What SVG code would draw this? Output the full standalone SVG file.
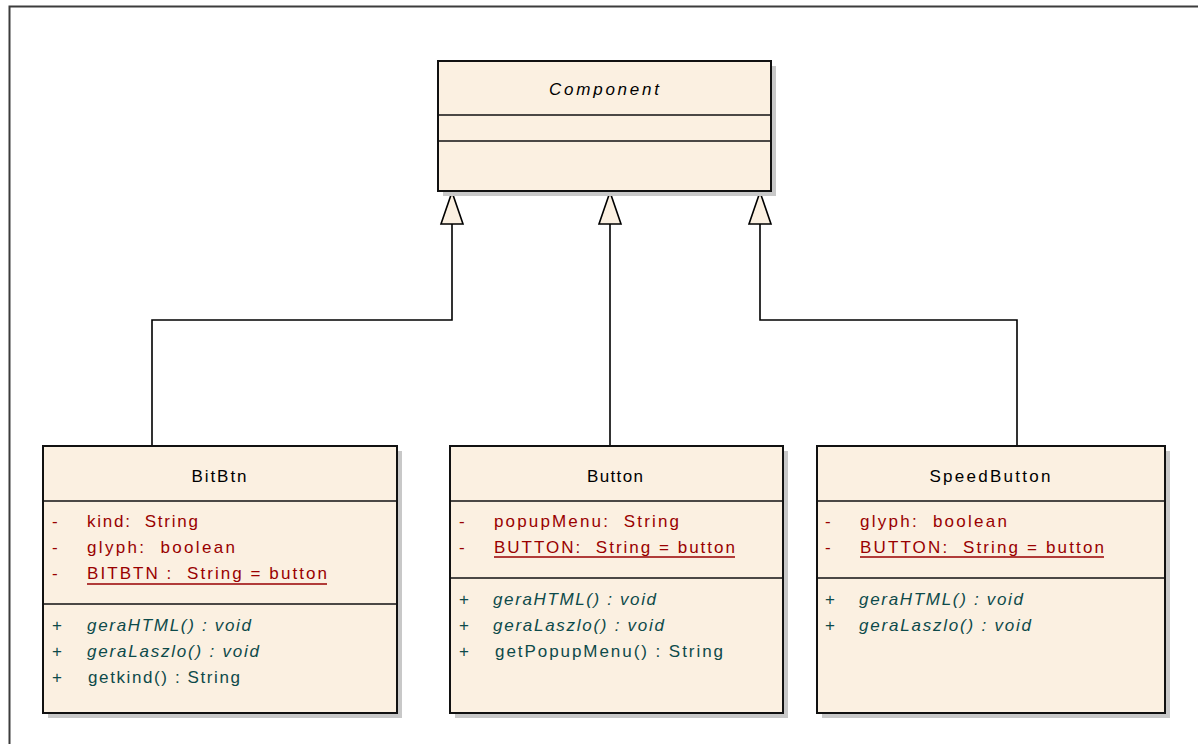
<svg xmlns="http://www.w3.org/2000/svg" width="1198" height="744" viewBox="0 0 1198 744">
  <style>
    .box { fill: #FBF0E1; stroke: #111; stroke-width: 2; }
    .shadow { fill: #c8c8c8; }
    .div { stroke: #111; stroke-width: 1.5; }
    text { font-family: "Liberation Sans", Arial, sans-serif; font-size: 17px; white-space: pre; }
    .title { fill: #000; text-anchor: middle; }
    .attr { fill: #990000; }
    .op { fill: #0d4a4a; }
    .it { font-style: italic; }
    .ul { stroke: #990000; stroke-width: 1.4; }
    .edge { fill: none; stroke: #000; stroke-width: 1.6; }
    .head { fill: #FBF0E1; stroke: #000; stroke-width: 1.6; stroke-linejoin: miter; }
  </style>

  <rect width="1198" height="744" fill="#fff"/>
  <!-- diagram frame -->
  <path d="M9.5,744 V6.5 H1198" fill="none" stroke="#3c3c3c" stroke-width="2"/>

  <!-- generalization connectors -->
  <g id="connectors">
    <path class="edge" d="M152,446 V320 H452 V224"/>
    <path class="edge" d="M610,446 V224"/>
    <path class="edge" d="M1017,446 V320 H760 V224"/>
    <path class="head" d="M452,192 L441,224 H463 Z"/>
    <path class="head" d="M610,192 L599,224 H621 Z"/>
    <path class="head" d="M760,192 L749,224 H771 Z"/>
  </g>

  <g id="Component">
    <rect class="shadow" x="443" y="66" width="333" height="130"/>
    <rect class="box" x="438" y="61" width="333" height="130"/>
    <line class="div" x1="438" y1="115" x2="771" y2="115"/>
    <line class="div" x1="438" y1="141" x2="771" y2="141"/>
    <text class="title it" x="604" y="95" textLength="110" lengthAdjust="spacing">Component</text>
  </g>

  <g id="BitBtn">
    <rect class="shadow" x="48" y="451" width="354" height="267"/>
    <rect class="box" x="43" y="446" width="354" height="267"/>
    <line class="div" x1="43" y1="501" x2="397" y2="501"/>
    <line class="div" x1="43" y1="604" x2="397" y2="604"/>
    <text class="title" x="219" y="482" textLength="55" lengthAdjust="spacing">BitBtn</text>
    <text class="attr" x="52" y="527">-</text>
    <text class="attr" x="87" y="527" textLength="111" lengthAdjust="spacing">kind:  String</text>
    <text class="attr" x="52" y="553">-</text>
    <text class="attr" x="87" y="553" textLength="148" lengthAdjust="spacing">glyph:  boolean</text>
    <text class="attr" x="52" y="579">-</text>
    <text class="attr" x="87" y="579" textLength="240" lengthAdjust="spacing">BITBTN :  String = button</text>
    <line class="ul" x1="87" y1="584" x2="327" y2="584"/>
    <text class="op" x="52" y="631">+</text>
    <text class="op it" x="87" y="631" textLength="164" lengthAdjust="spacing">geraHTML() : void</text>
    <text class="op" x="52" y="657">+</text>
    <text class="op it" x="87" y="657" textLength="172" lengthAdjust="spacing">geraLaszlo() : void</text>
    <text class="op" x="52" y="683">+</text>
    <text class="op" x="88" y="683" textLength="152" lengthAdjust="spacing">getkind() : String</text>
  </g>

  <g id="Button">
    <rect class="shadow" x="455" y="451" width="333" height="267"/>
    <rect class="box" x="450" y="446" width="333" height="267"/>
    <line class="div" x1="450" y1="501" x2="783" y2="501"/>
    <line class="div" x1="450" y1="578" x2="783" y2="578"/>
    <text class="title" x="615" y="482" textLength="56" lengthAdjust="spacing">Button</text>
    <text class="attr" x="459" y="527">-</text>
    <text class="attr" x="494" y="527" textLength="185" lengthAdjust="spacing">popupMenu:  String</text>
    <text class="attr" x="459" y="553">-</text>
    <text class="attr" x="494" y="553" textLength="241" lengthAdjust="spacing">BUTTON:  String = button</text>
    <line class="ul" x1="494" y1="557" x2="735" y2="557"/>
    <text class="op" x="459" y="605">+</text>
    <text class="op it" x="493" y="605" textLength="163" lengthAdjust="spacing">geraHTML() : void</text>
    <text class="op" x="459" y="631">+</text>
    <text class="op it" x="493" y="631" textLength="171" lengthAdjust="spacing">geraLaszlo() : void</text>
    <text class="op" x="459" y="657">+</text>
    <text class="op" x="495" y="657" textLength="228" lengthAdjust="spacing">getPopupMenu() : String</text>
  </g>

  <g id="SpeedButton">
    <rect class="shadow" x="822" y="451" width="348" height="267"/>
    <rect class="box" x="817" y="446" width="348" height="267"/>
    <line class="div" x1="817" y1="501" x2="1165" y2="501"/>
    <line class="div" x1="817" y1="578" x2="1165" y2="578"/>
    <text class="title" x="990" y="482" textLength="121" lengthAdjust="spacing">SpeedButton</text>
    <text class="attr" x="825" y="527">-</text>
    <text class="attr" x="860" y="527" textLength="147" lengthAdjust="spacing">glyph:  boolean</text>
    <text class="attr" x="825" y="553">-</text>
    <text class="attr" x="860" y="553" textLength="244" lengthAdjust="spacing">BUTTON:  String = button</text>
    <line class="ul" x1="860" y1="557" x2="1104" y2="557"/>
    <text class="op" x="825" y="605">+</text>
    <text class="op it" x="859" y="605" textLength="164" lengthAdjust="spacing">geraHTML() : void</text>
    <text class="op" x="825" y="631">+</text>
    <text class="op it" x="859" y="631" textLength="172" lengthAdjust="spacing">geraLaszlo() : void</text>
  </g>
</svg>
